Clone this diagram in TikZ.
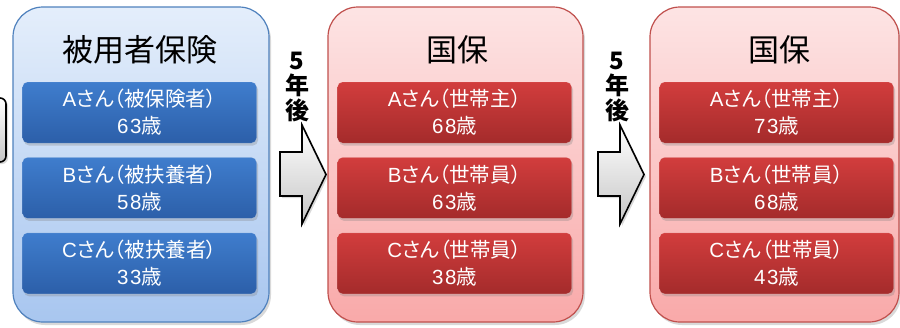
\documentclass[tikz,border=0pt]{standalone}
\usepackage{fontspec}
\setmainfont{Noto Sans CJK JP}
\newfontfamily\latinfont[LetterSpace=8]{Liberation Sans}
\usepackage{tikz}
\usepackage{xcolor}
\usetikzlibrary{shadows, positioning}

\definecolor{hokenline}{HTML}{4F81BD}
\definecolor{hokentop}{HTML}{E4EEFB}
\definecolor{hokenbottom}{HTML}{A8C6EF}
\definecolor{hokenboxtop}{HTML}{3F7DCD}
\definecolor{hokenboxbottom}{HTML}{2C5FA9}
\definecolor{kokuline}{HTML}{C0504D}
\definecolor{kokutop}{HTML}{FDE4E4}
\definecolor{kokubottom}{HTML}{F9A9A9}
\definecolor{kokuboxtop}{HTML}{D23D3D}
\definecolor{kokuboxbottom}{HTML}{A42B2B}

\tikzset{
    panel/.style={rounded corners=30pt, line width=1.2pt, minimum width=256pt, minimum height=315pt,
        drop shadow={opacity=.3, shadow xshift=2pt, shadow yshift=-3pt}},
    bluepanel/.style={panel, draw=hokenline, top color=hokentop, bottom color=hokenbottom},
    redpanel/.style={panel, draw=kokuline, top color=kokutop, bottom color=kokubottom},
    member/.style={rounded corners=5pt, minimum width=234pt, minimum height=61pt, inner sep=0pt,
        text=white, align=center, font=\fontsize{20.5}{27}\selectfont\addfontfeature{RawFeature=+palt},
        draw=white, draw opacity=.25,
        drop shadow={opacity=.3, shadow xshift=1.5pt, shadow yshift=-2.5pt}},
    bluemember/.style={member, top color=hokenboxtop, bottom color=hokenboxbottom},
    redmember/.style={member, top color=kokuboxtop, bottom color=kokuboxbottom},
    paneltitle/.style={font=\fontsize{31}{32}\selectfont},
    later/.style={font=\bfseries\fontsize{24}{25}\selectfont, align=center, inner sep=0pt},
    blockarrow/.style={draw=black, line width=1.6pt, line join=miter, top color=white, bottom color=gray!45,
        drop shadow={opacity=.3, shadow xshift=2pt, shadow yshift=-2pt}},
}

\begin{document}
\begin{tikzpicture}[x=1pt, y=-1pt]
    \useasboundingbox (0,0) rectangle (900,327);
    \clip (0,0) rectangle (900,327);

    % left edge, cut off
    \draw[blockarrow, rounded corners=6pt] (-30,98) rectangle (6,162);

    % panels
    \node[bluepanel] (hoken) at (141,164.5) {};
    \node[redpanel, minimum width=255pt] (koku1) at (455.5,164.5) {};
    \node[redpanel, minimum width=249pt] (koku2) at (774.5,164.5) {};

    \node[paneltitle] (hokentitle) at (140,50) {被用者保険};
    \node[paneltitle] (koku1title) at (457,50) {国保};
    \node[paneltitle] (koku2title) at (779,50) {国保};

    % members now
    \node[bluemember] (ha) at (139.5,112.5) {{\latinfont A}さん（被保険者）\\{\latinfont 63}歳};
    \node[bluemember, below=14pt of ha] (hb) {{\latinfont B}さん（被扶養者）\\{\latinfont 58}歳};
    \node[bluemember, below=14pt of hb] (hc) {{\latinfont C}さん（被扶養者）\\{\latinfont 33}歳};

    % members after 5 years
    \node[redmember] (ka) at (454.5,112.5) {{\latinfont A}さん（世帯主）\\{\latinfont 68}歳};
    \node[redmember, below=14pt of ka] (kb) {{\latinfont B}さん（世帯員）\\{\latinfont 63}歳};
    \node[redmember, below=14pt of kb] (kc) {{\latinfont C}さん（世帯員）\\{\latinfont 38}歳};

    % members after 10 years
    \node[redmember] (la) at (776.5,112.5) {{\latinfont A}さん（世帯主）\\{\latinfont 73}歳};
    \node[redmember, below=14pt of la] (lb) {{\latinfont B}さん（世帯員）\\{\latinfont 68}歳};
    \node[redmember, below=14pt of lb] (lc) {{\latinfont C}さん（世帯員）\\{\latinfont 43}歳};

    % arrows
    \draw[blockarrow] (280,152) -- (302,152) -- (302,125) -- (326,174.5)
        -- (302,224) -- (302,196) -- (280,196) -- cycle;
    \draw[blockarrow] (598,152) -- (620,152) -- (620,125) -- (644,174.5)
        -- (620,224) -- (620,196) -- (598,196) -- cycle;

    \node[later] (later1) at (297,87) {5\\年\\後};
    \node[later] (later2) at (617,87) {5\\年\\後};
\end{tikzpicture}
\end{document}
